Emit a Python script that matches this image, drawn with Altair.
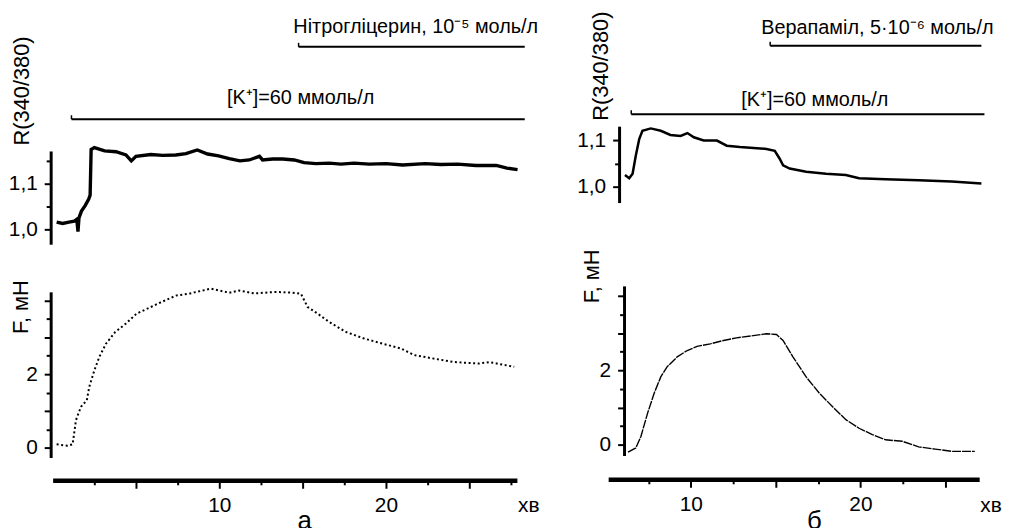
import altair as alt
import pandas as pd

FONT = "Liberation Sans"

# ---------------- panel а ----------------
a_r_time = [0.24, 0.6, 0.98, 1.3, 1.45, 1.52, 1.58, 1.73, 1.95, 2.16, 2.25, 2.31, 2.5, 3.12, 3.8,
            4.4, 4.72, 5.0, 5.9, 6.6, 7.39, 8.0, 8.68, 9.3, 9.96, 10.6, 11.24, 11.8, 12.41, 12.6,
            13.2, 13.8, 14.5, 15.09, 15.8, 16.6, 17.3, 18.08, 19.0, 20.0, 21.0, 22.35, 23.3, 24.3,
            25.4, 26.62, 27.26, 27.9]
a_r_value = [1.016, 1.013, 1.016, 1.018, 1.022, 0.995, 1.025, 1.04, 1.052, 1.066, 1.075, 1.175,
             1.179, 1.172, 1.170, 1.163, 1.150, 1.160, 1.164, 1.162, 1.163, 1.166, 1.174, 1.165,
             1.161, 1.155, 1.150, 1.152, 1.160, 1.152, 1.154, 1.154, 1.152, 1.146, 1.144, 1.145,
             1.143, 1.145, 1.143, 1.144, 1.141, 1.144, 1.142, 1.143, 1.140, 1.140, 1.134, 1.131]
a_f_time = [0.24, 0.9, 1.2, 1.4, 1.7, 2.05, 2.2, 2.5, 2.8, 3.2, 3.76, 4.4, 5.04, 5.9, 6.5, 7.4,
            8.25, 9.5, 10.6, 11.2, 12.1, 13.4, 14.4, 14.9, 15.3, 15.9, 16.6, 17.6, 18.7, 19.8,
            20.9, 21.7, 22.8, 24.1, 25.6, 26.2, 27.7]
a_f_value = [0.09, 0.05, 0.09, 0.75, 1.11, 1.29, 1.66, 2.1, 2.47, 2.83, 3.15, 3.38, 3.65, 3.83,
             3.96, 4.14, 4.2, 4.33, 4.22, 4.28, 4.2, 4.24, 4.22, 4.19, 3.83, 3.65, 3.42, 3.15,
             2.97, 2.83, 2.7, 2.52, 2.43, 2.33, 2.29, 2.33, 2.2]
a_drug_label = "Нітрогліцерин, 10⁻⁵ моль/л"
a_drug_span = [14.76, 28.33]
a_drug_label_at = 21.79
a_k_span = [1.13, 28.33]
a_k_label_at = 14.88

# ---------------- panel б ----------------
b_r_time = [6.12, 6.37, 6.57, 6.76, 6.96, 7.15, 7.64, 8.23, 8.8, 9.4, 9.8, 10.18, 10.76, 11.54,
            12.12, 12.9, 13.7, 14.46, 14.95, 15.24, 15.44, 15.83, 16.8, 17.97, 19.14, 19.92,
            21.48, 23.43, 25.38, 27.13]
b_r_value = [1.025, 1.018, 1.028, 1.067, 1.102, 1.12, 1.125, 1.12, 1.111, 1.109, 1.115, 1.106,
             1.099, 1.099, 1.088, 1.085, 1.083, 1.081, 1.077, 1.06, 1.046, 1.039, 1.032, 1.028,
             1.025, 1.018, 1.016, 1.014, 1.011, 1.007]
b_f_time = [6.3, 6.76, 7.06, 7.45, 7.84, 8.23, 8.6, 9.2, 9.79, 10.37, 11.15, 11.93, 12.69, 13.68,
            14.46, 15.05, 15.44, 16.02, 16.8, 17.58, 18.36, 19.14, 19.92, 20.7, 21.48, 22.46,
            23.43, 24.4, 25.38, 26.74]
b_f_value = [-0.2, -0.09, 0.22, 0.84, 1.38, 1.82, 2.09, 2.36, 2.53, 2.64, 2.71, 2.8, 2.87, 2.93,
             2.98, 2.96, 2.8, 2.36, 1.82, 1.38, 1.02, 0.67, 0.44, 0.27, 0.13, 0.09, -0.06, -0.12,
             -0.18, -0.18]
b_drug_label = "Верапаміл, 5·10⁻⁶ моль/л"
b_drug_span = [14.68, 27.13]
b_drug_label_at = 21.0
b_k_span = [6.49, 27.31]
b_k_label_at = 17.31

k_label = "[K⁺]=60  ммоль/л"
r_title = "R(340/380)"
f_title = "F, мН"
time_unit = "хв"

r_ticks_a = [1.0, 1.05, 1.1, 1.15]
r_ticks_b = [1.0, 1.05, 1.1]
f_ticks = [0, 0.5, 1, 1.5, 2, 2.5, 3, 3.5, 4]
x_ticks_a = [2.5, 5, 7.5, 10, 12.5, 15, 17.5, 20, 22.5, 25, 27.5]
x_ticks_b = [7.5, 10, 12.5, 15, 17.5, 20, 22.5, 25]


def y_axis(title, values, major_test, label_expr, title_x, title_y, offset):
    return alt.Axis(
        values=values, title=title, offset=offset, orient="left", grid=False,
        domainColor="black", domainWidth=3,
        tickColor="black", tickWidth=2,
        tickSize={"condition": {"test": major_test, "value": 6.5}, "value": 4.5},
        labelExpr=label_expr, labelFont=FONT, labelFontSize=21, labelColor="black",
        labelPadding=7, labelOverlap=False, labelFlush=False,
        titleFont=FONT, titleFontSize=22, titleFontWeight="normal", titleColor="black",
        titleAngle=270, titleAlign="left", titleBaseline="middle",
        titleX=title_x, titleY=title_y,
    )


R_MAJOR = "abs(datum.value*100 - round(datum.value*10)*10) < 0.01"
R_LABELS = R_MAJOR + " ? replace(format(datum.value, '.1f'), '.', ',') : ''"
F_LABELS = "datum.value == 0 ? '0' : datum.value == 2 ? '2' : ''"
F_MAJOR = "datum.value % 1 == 0"
X_LABELS = "datum.value == 10 ? '10' : datum.value == 20 ? '20' : ''"


def panel(p):
    xs = alt.Scale(domain=p["xdom"], nice=False, zero=False)
    w, h = p["width"], p["height"]
    x_axis = alt.Axis(values=p["x_ticks"], orient="bottom", offset=p["x_offset"], title=None,
                      grid=False, domainColor="black", domainWidth=4.5,
                      tickColor="black", tickWidth=2,
                      tickSize={"condition": {"test": "datum.value % 5 == 0", "value": 8},
                                "value": 4.5},
                      labelExpr=X_LABELS,
                      labelFont=FONT, labelFontSize=21, labelColor="black",
                      labelPadding=6, labelOverlap=False, labelFlush=False)

    def X(field):
        return alt.X(field, scale=xs, axis=x_axis, title=None)

    # drug bar and K+ bar with their labels
    spans = pd.DataFrame({
        "start": [p["drug_span"][0], p["k_span"][0]],
        "end": [p["drug_span"][1], p["k_span"][1]],
    })
    drug_line = alt.Chart(spans.iloc[[0]]).mark_rule(color="black", strokeWidth=2).encode(
        x=X("start:Q"), x2="end:Q", y=alt.value(p["drug_line_y"]))
    drug_tick = alt.Chart(spans.iloc[[0]]).mark_rule(color="black", strokeWidth=1.5).encode(
        x=X("start:Q"), y=alt.value(p["drug_line_y"] - 4), y2=alt.value(p["drug_line_y"]))
    k_line = alt.Chart(spans.iloc[[1]]).mark_rule(color="black", strokeWidth=2).encode(
        x=X("start:Q"), x2="end:Q", y=alt.value(p["k_line_y"]))
    k_tick = alt.Chart(spans.iloc[[1]]).mark_rule(color="black", strokeWidth=1.5).encode(
        x=X("start:Q"), y=alt.value(p["k_line_y"] - 4), y2=alt.value(p["k_line_y"]))
    labels = pd.DataFrame({"at": [p["drug_label_at"], p["k_label_at"]],
                           "label": [p["drug_label"], k_label]})
    drug_text = alt.Chart(labels.iloc[[0]]).mark_text(
        font=FONT, fontSize=20, color="black", align="center", baseline="middle").encode(
        x=X("at:Q"), y=alt.value(p["drug_text_y"]), text="label:N")
    k_text = alt.Chart(labels.iloc[[1]]).mark_text(
        font=FONT, fontSize=20, color="black", align="center", baseline="middle").encode(
        x=X("at:Q"), y=alt.value(p["k_text_y"]), text="label:N")

    # R trace (upper)
    rdf = pd.DataFrame({"t": p["r_time"], "v": p["r_value"]})
    r_line = alt.Chart(rdf).mark_line(color="black", strokeWidth=p["r_sw"]).encode(
        x=X("t:Q"),
        y=alt.Y("v:Q", scale=alt.Scale(domain=p["rdom"], range=p["r_range"], nice=False, zero=False),
                axis=y_axis(r_title, p["r_ticks"], R_MAJOR, R_LABELS,
                            p["r_title_x"], p["r_title_y"], p["r_offset"])),
    )

    # F trace (lower)
    fdf = pd.DataFrame({"t": p["f_time"], "v": p["f_value"]})
    f_line = alt.Chart(fdf).mark_line(color="black", strokeWidth=p["f_sw"],
                                       strokeDash=p["f_dash"]).encode(
        x=X("t:Q"),
        y=alt.Y("v:Q", scale=alt.Scale(domain=p["fdom"], range=p["f_range"], nice=False, zero=False),
                axis=y_axis(f_title, f_ticks, F_MAJOR, F_LABELS,
                            p["f_title_x"], p["f_title_y"], p["f_offset"])),
    )
    unit = alt.Chart(pd.DataFrame({"u": [time_unit]})).mark_text(
        font=FONT, fontSize=21, color="black", align="center", baseline="alphabetic").encode(
        text="u:N", x=alt.value(w + 12), y=alt.value(h + p["unit_dy"]))
    letter = alt.Chart(pd.DataFrame({"u": [p["letter"]]})).mark_text(
        font=FONT, fontSize=26, color="black", align="center", baseline="alphabetic").encode(
        text="u:N", x=alt.value(p["letter_x"]), y=alt.value(h + p["letter_dy"]))

    return alt.layer(
        drug_line, drug_tick, k_line, k_tick, drug_text, k_text, r_line, f_line, unit, letter
    ).resolve_scale(y="independent").properties(width=w, height=h)


pa = dict(
    xdom=[0, 27.86], width=468, height=450,
    drug_span=a_drug_span, k_span=a_k_span, drug_label=a_drug_label,
    drug_label_at=a_drug_label_at, k_label_at=a_k_label_at,
    drug_text_y=16, drug_line_y=36, k_text_y=88, k_line_y=109,
    r_time=a_r_time, r_value=a_r_value, r_sw=3.4, rdom=[0.9674, 1.1717], r_range=[235, 141],
    r_ticks=r_ticks_a, r_title_x=-29, r_title_y=135, r_offset=2,
    f_time=a_f_time, f_value=a_f_value, f_sw=2, f_dash=[2, 2.6], fdom=[-0.27, 4.243],
    f_range=[450, 283], f_title_x=-30, f_title_y=325, f_offset=2,
    x_ticks=x_ticks_a, x_offset=23,
    unit_dy=55, letter="а", letter_x=254, letter_dy=72,
)
pb = dict(
    xdom=[5.13, 27.0], width=374, height=448,
    drug_span=b_drug_span, k_span=b_k_span, drug_label=b_drug_label,
    drug_label_at=b_drug_label_at, k_label_at=b_k_label_at,
    drug_text_y=17, drug_line_y=35, k_text_y=90, k_line_y=104,
    r_time=b_r_time, r_value=b_r_value, r_sw=2.5, rdom=[0.966, 1.1298], r_range=[193, 116],
    r_ticks=r_ticks_b, r_title_x=-19, r_title_y=110, r_offset=-11,
    f_time=b_f_time, f_value=b_f_value, f_sw=1.4, f_dash=[9, 1], fdom=[-0.293, 4.267],
    f_range=[448, 277], f_title_x=-33, f_title_y=294, f_offset=-16,
    x_ticks=x_ticks_b, x_offset=24,
    unit_dy=57, letter="б", letter_x=208, letter_dy=74,
)

chart = alt.hconcat(panel(pa), panel(pb), spacing=92, bounds="flush").resolve_scale(
    x="independent", y="independent").properties(
    padding={"left": 0, "top": 0, "right": 0, "bottom": 0},
    background="white",
).configure_view(stroke=None)

chart.save("out.html", embed_options={"renderer": "svg", "actions": False})
